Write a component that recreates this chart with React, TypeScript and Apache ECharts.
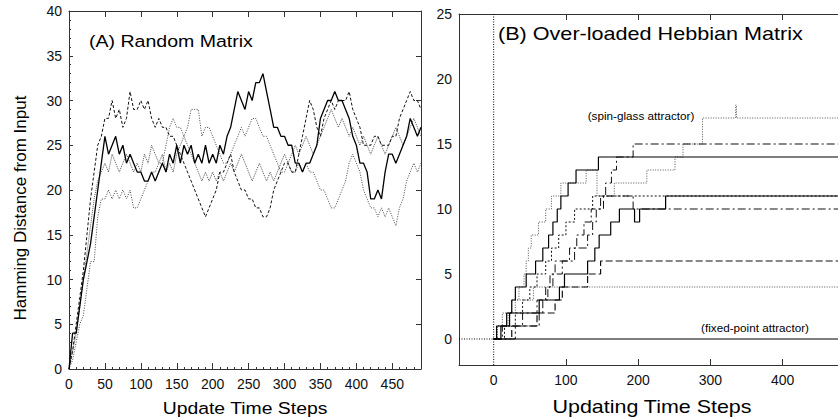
import React, { useEffect, useRef } from 'react';
import * as echarts from 'echarts';

// ---------- Panel A: Random Matrix (value every 5 update steps) ----------
const solidRun = [
  0, 4, 4, 7, 10, 12, 14, 17, 20, 23,
  26, 24, 25, 26, 24, 25, 23, 24, 23, 22,
  22, 21, 21, 22, 21, 22, 23, 22, 24, 23,
  25, 23, 25, 24, 25, 23, 24, 23, 25, 23,
  24, 23, 25, 24, 26, 27, 29, 31, 30, 29,
  31, 30, 32, 32, 33, 31, 29, 27, 27, 26,
  26, 25, 25, 23, 23, 22, 23, 23, 24, 25,
  28, 29, 30, 30, 31, 30, 30, 29, 28, 26,
  25, 23, 23, 22, 19, 19, 20, 19, 22, 24,
  24, 23, 24, 25, 26, 28, 27, 26, 27,
];
const dashedRun = [
  0, 2, 5, 8, 11, 15, 19, 22, 25, 26,
  28, 28, 30, 28, 29, 27, 28, 31, 29, 29,
  30, 29, 30, 28, 27, 28, 27, 27, 26, 26,
  25, 24, 23, 22, 21, 20, 19, 18, 17, 18,
  19, 20, 22, 22, 23, 24, 22, 21, 20, 20,
  19, 19, 18, 18, 17, 17, 18, 20, 21, 22,
  23, 23, 22, 22, 24, 26, 28, 30, 29, 27,
  26, 28, 29, 30, 29, 30, 30, 30, 31, 29,
  28, 27, 25, 25, 25, 26, 26, 25, 25, 25,
  26, 26, 28, 29, 30, 31, 30, 30, 29,
];
const dottedRunA = [
  0, 1, 3, 5, 6, 9, 12, 12, 17, 19,
  19, 20, 19, 20, 19, 20, 19, 20, 18, 18,
  19, 20, 21, 22, 22, 23, 23, 25, 27, 28,
  27, 27, 26, 27, 29, 29, 29, 26, 27, 27,
  26, 25, 24, 23, 23, 24, 25, 26, 27, 26,
  27, 28, 28, 27, 26, 26, 25, 24, 23, 22,
  22, 23, 22, 22, 23, 22, 23, 22, 22, 21,
  20, 20, 19, 18, 18, 19, 20, 21, 23, 24,
  23, 22, 20, 19, 18, 18, 17, 18, 17, 18,
  17, 16, 18, 19, 21, 22, 23, 22, 23,
];
const dottedRunB = [
  0, 2, 4, 7, 10, 13, 16, 19, 21, 22,
  23, 22, 24, 23, 22, 23, 24, 23, 22, 23,
  22, 24, 23, 25, 24, 23, 24, 22, 23, 22,
  24, 25, 26, 25, 24, 23, 22, 21, 22, 21,
  22, 21, 22, 21, 22, 23, 22, 23, 24, 23,
  22, 21, 22, 23, 22, 21, 22, 21, 22, 23,
  24, 23, 24, 25, 24, 25, 26, 25, 24, 25,
  26, 27, 28, 29, 28, 27, 28, 27, 26, 27,
  26, 25, 26, 25, 24, 25, 26, 25, 24, 25,
  26, 27, 26, 25, 26, 27, 28, 27, 26,
];
const stepTimes = solidRun.map((_, i) => i * 5);
const xTicksA = [0, 50, 100, 150, 200, 250, 300, 350, 400, 450];

// ---------- Panel B: Over-loaded Hebbian Matrix (step changes) ----------
const spinGlassT = [0, 5, 12, 25, 35, 42, 45, 48, 52, 62, 72, 80, 93, 128, 143, 167, 212, 251, 262, 289, 335, 336, 477];
const spinGlassV = [0, 1, 2, 3, 4, 5, 6, 7, 8, 9, 10, 11, 12, 13, 11, 12, 13, 14, 15, 17, 18, 17, 17];
const dashDot15T = [0, 30, 63, 68, 72, 78, 85, 112, 130, 137, 142, 152, 155, 163, 170, 193, 477];
const dashDot15V = [0, 1, 2, 3, 4, 5, 6, 7, 8, 9, 10, 11, 12, 13, 14, 15, 15];
const solid14T = [0, 4, 18, 25, 30, 45, 58, 68, 76, 82, 88, 93, 103, 114, 145, 477];
const solid14V = [0, 1, 2, 3, 4, 5, 6, 7, 8, 9, 10, 11, 12, 13, 14, 14];
const solid11T = [0, 10, 22, 63, 91, 98, 130, 140, 146, 162, 174, 195, 202, 238, 477];
const solid11V = [0, 1, 2, 3, 4, 5, 6, 7, 8, 9, 10, 9, 10, 11, 11];
const dotted11T = [0, 15, 30, 40, 50, 60, 72, 80, 90, 100, 112, 137, 477];
const dotted11V = [0, 1, 2, 3, 4, 5, 6, 7, 8, 9, 10, 11, 11];
const dashDot10T = [0, 12, 40, 60, 75, 82, 95, 105, 115, 125, 135, 148, 193, 477];
const dashDot10V = [0, 1, 2, 3, 4, 5, 6, 7, 8, 9, 10, 11, 10, 10];
const dash6T = [0, 25, 60, 85, 95, 130, 148, 477];
const dash6V = [0, 1, 2, 3, 4, 5, 6, 6];
const dot4T = [0, 5, 20, 30, 55, 477];
const dot4V = [0, 1, 2, 3, 4, 4];
const fixedT = [0, 477];
const fixedV = [0, 0];
const guideVT = [0, 0];
const guideVV = [-2, 25];
const guideHT = [-48, 0];
const guideHV = [0, 0];
const xTicksB = [100, 200, 300, 400];
const xLabelsB = [0, 100, 200, 300, 400];
const yLabelsB = [0, 5, 10, 15, 20, 25];

const FONT = '"Liberation Sans", Arial, Helvetica, sans-serif';
const AX = '#333';

const zip = (t: number[], v: number[]) => t.map((x, i) => [x, v[i]]);

function lineA(data: number[], color: string, type: any, width: number) {
  return {
    type: 'line', xAxisIndex: 0, yAxisIndex: 0, silent: true,
    symbol: 'none', showSymbol: false,
    data: data.map((v, i) => [stepTimes[i], v]),
    lineStyle: { color, type, width },
  };
}
function lineB(t: number[], v: number[], color: string, type: any, width: number) {
  return {
    type: 'line', xAxisIndex: 2, yAxisIndex: 2, silent: true,
    symbol: 'none', showSymbol: false, step: 'end',
    data: zip(t, v),
    lineStyle: { color, type, width },
  };
}

function txt(text: string, x: number, y: number, size: number, align: string, extra: any = {}) {
  return {
    type: 'text', x, y, ...extra,
    style: {
      text, fontSize: size, fontWeight: 'normal', fontFamily: FONT, fill: '#000',
      textAlign: align, textVerticalAlign: 'middle', align, verticalAlign: 'middle',
    },
  };
}

export default function App() {
  const ref = useRef<HTMLDivElement>(null);
  useEffect(() => {
    if (!ref.current) return;
    const chart = echarts.init(ref.current, undefined, { renderer: 'svg' });
    const axisLine = { show: true, onZero: false, lineStyle: { color: AX, width: 1 } };
    const label = { fontSize: 14, color: '#111', fontFamily: FONT };
    const option: any = {
      animation: false,
      backgroundColor: '#ffffff',
      textStyle: { fontFamily: FONT },
      grid: [
        { left: 69, top: 11, width: 352, height: 358 },
        { left: 459, top: 14, width: 379, height: 351 },
      ],
      xAxis: [
        {
          gridIndex: 0, type: 'value', min: 0, max: 490, interval: 50, position: 'bottom',
          axisLine, splitLine: { show: false },
          axisTick: { show: true, inside: true, length: 6, lineStyle: { color: AX } },
          minorTick: { show: true, splitNumber: 5, length: 2, lineStyle: { color: AX } },
          axisLabel: { ...label, margin: 8, customValues: xTicksA },
        },
        {
          gridIndex: 0, type: 'value', min: 0, max: 490, interval: 50, position: 'top',
          axisLine, splitLine: { show: false },
          axisTick: { show: true, inside: true, length: 6, lineStyle: { color: AX }, customValues: xTicksA },
          axisLabel: { show: false },
        },
        {
          gridIndex: 1, type: 'value', min: -48, max: 476.6, position: 'bottom',
          axisLine, splitLine: { show: false },
          axisTick: { show: true, inside: true, length: 6, lineStyle: { color: AX }, customValues: xTicksB },
          axisLabel: { ...label, margin: 8, customValues: xLabelsB },
        },
        {
          gridIndex: 1, type: 'value', min: -48, max: 476.6, position: 'top',
          axisLine, splitLine: { show: false },
          axisTick: { show: true, inside: true, length: 6, lineStyle: { color: AX }, customValues: xTicksB },
          axisLabel: { show: false },
        },
      ],
      yAxis: [
        {
          gridIndex: 0, type: 'value', min: 0, max: 40, interval: 5, position: 'left',
          axisLine, splitLine: { show: false },
          axisTick: { show: true, inside: true, length: 4, lineStyle: { color: AX } },
          minorTick: { show: true, splitNumber: 5, length: 2, lineStyle: { color: AX } },
          axisLabel: { ...label, margin: 7 },
        },
        {
          gridIndex: 0, type: 'value', min: 0, max: 40, interval: 5, position: 'right',
          axisLine, splitLine: { show: false },
          axisTick: { show: true, inside: true, length: 5, lineStyle: { color: AX } },
          axisLabel: { show: false },
        },
        {
          gridIndex: 1, type: 'value', min: -2, max: 25, position: 'left',
          axisLine, splitLine: { show: false },
          axisTick: { show: false },
          axisLabel: { ...label, margin: 7, customValues: yLabelsB },
        },
      ],
      series: [
        lineA(dottedRunB, '#555', [1, 1], 1),
        lineA(dottedRunA, '#444', [1, 1.5], 1),
        lineA(dashedRun, '#111', [3, 2], 1),
        lineA(solidRun, '#000', 'solid', 1.3),
        {
          type: 'line', xAxisIndex: 2, yAxisIndex: 2, silent: true, symbol: 'none',
          data: zip(guideVT, guideVV), lineStyle: { color: '#000', type: [1, 1.5], width: 1 },
        },
        {
          type: 'line', xAxisIndex: 2, yAxisIndex: 2, silent: true, symbol: 'none',
          data: zip(guideHT, guideHV), lineStyle: { color: '#000', type: [1, 1.5], width: 1 },
        },
        lineB(spinGlassT, spinGlassV, '#555', [1, 1.5], 1),
        lineB(dot4T, dot4V, '#555', [1, 1.5], 1),
        lineB(dotted11T, dotted11V, '#111', [2, 2], 1),
        lineB(dash6T, dash6V, '#111', [7, 3], 1.2),
        lineB(dashDot10T, dashDot10V, '#111', [8, 3, 2, 3], 1),
        lineB(dashDot15T, dashDot15V, '#111', [8, 3, 2, 3], 1),
        lineB(solid11T, solid11V, '#000', 'solid', 1.2),
        lineB(solid14T, solid14V, '#000', 'solid', 1.2),
        lineB(fixedT, fixedV, '#000', 'solid', 1.2),
      ],
      graphic: [
        txt('(A) Random Matrix', 89, 41, 17, 'left', { scaleX: 1.15 }),
        txt('(B) Over-loaded Hebbian Matrix', 498, 34, 18, 'left', { scaleX: 1.2 }),
        txt('Update Time Steps', 245, 408, 17, 'center', { scaleX: 1.14 }),
        txt('Updating Time Steps', 652, 407, 18.5, 'center', { scaleX: 1.16 }),
        txt('Hamming Distance from Input', 20, 208, 17, 'center', { rotation: Math.PI / 2 }),
        txt('(spin-glass attractor)', 641, 116, 10, 'center', { scaleX: 1.17 }),
        txt('(fixed-point attractor)', 755, 328, 10, 'center', { scaleX: 1.17 }),
      ],
    };
    chart.setOption(option);
    return () => chart.dispose();
  }, []);
  return (
    <div
      ref={ref}
      style={{ position: 'fixed', left: 0, top: 0, width: 838, height: 419, background: '#fff' }}
    />
  );
}
